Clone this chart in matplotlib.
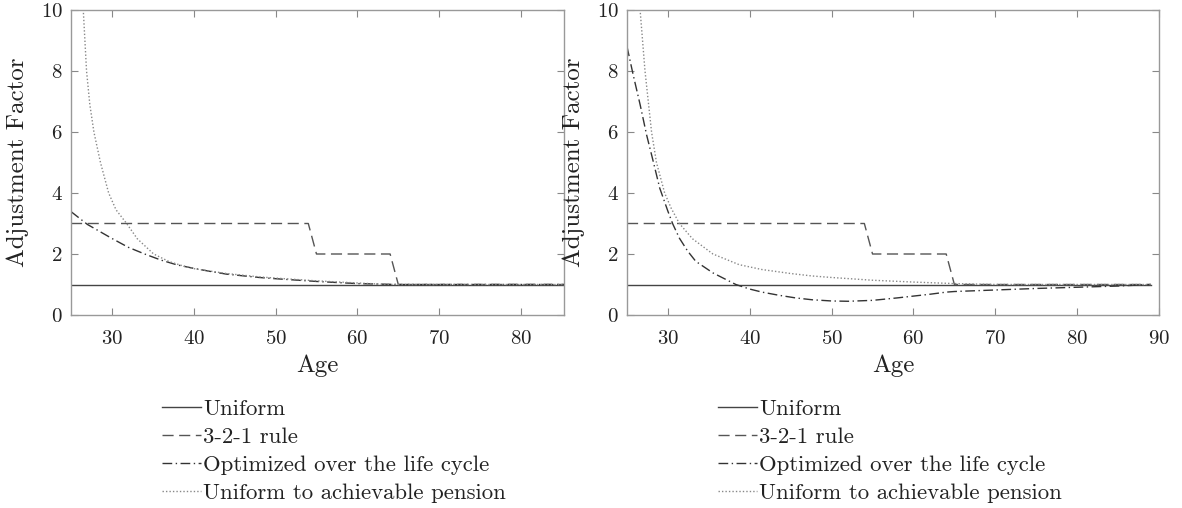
import matplotlib
matplotlib.use("Agg")
from matplotlib import pyplot as plt

plt.rcParams['font.family'] = 'cmr10'
plt.rcParams['axes.formatter.use_mathtext'] = True

# --- left panel ---
l_end = 86
l_uniform_age = [25, l_end]
l_uniform = [1, 1]
l_rule_age = [25, 54, 55, 64, 65, l_end]
l_rule = [3, 3, 2, 2, 1, 1]
l_opt_age = [25, 27, 30, 32, 34, 36, 38, 40, 42, 44, 48, 50, 55, 60, 65, 70, l_end]
l_opt = [3.39, 2.97, 2.51, 2.22, 2.0, 1.80, 1.64, 1.53, 1.43, 1.34, 1.23, 1.19,
         1.10, 1.03, 1.0, 1.0, 1.0]
l_ach_age = [26.2, 26.5, 26.9, 27.3, 27.8, 28.6, 29.6, 30.5, 31.8, 33.1, 35.1, 37,
             38.8, 40, 42, 44, 48, 50, 55, 60, 63, 65, l_end]
l_ach = [12.0, 10.0, 8.0, 6.9, 6.0, 5.0, 4.0, 3.45, 3.0, 2.5, 2.0, 1.75,
         1.6, 1.52, 1.44, 1.36, 1.25, 1.21, 1.12, 1.05, 1.01, 1.0, 1.0]

# --- right panel ---
r_end = 89
r_uniform_age = [25, r_end]
r_uniform = [1, 1]
r_rule_age = [25, 54, 55, 64, 65, r_end]
r_rule = [3, 3, 2, 2, 1, 1]
r_opt_age = [25, 25.75, 26.6, 27.4, 28.2, 29, 30, 30.6, 31.4, 32.4, 33.4, 35.5, 38.3,
             40, 41.5, 43.5, 45.6, 47.6, 50, 52, 55, 58, 60, 62, 64, 65, 70, 75, 80,
             85, r_end]
r_opt = [8.8, 7.88, 6.9, 5.9, 5.04, 4.16, 3.4, 2.98, 2.52, 2.1, 1.76, 1.38, 1.0,
         0.85, 0.75, 0.65, 0.56, 0.5, 0.46, 0.45, 0.48, 0.56, 0.62, 0.68, 0.75, 0.77,
         0.82, 0.87, 0.91, 0.95, 1.0]
r_ach_age = [26.3, 26.6, 27.2, 28.0, 28.6, 29.6, 30.4, 31.4, 33.0, 35.5, 38.7, 41.5,
             45, 47.6, 50, 55, 60, 65, 70, r_end]
r_ach = [12.0, 10.0, 8.0, 6.0, 5.0, 4.0, 3.5, 3.0, 2.5, 2.0, 1.65, 1.49,
         1.36, 1.28, 1.23, 1.14, 1.08, 1.03, 1.0, 1.0]

labels = ['Uniform', '3-2-1 rule', 'Optimized over the life cycle',
          'Uniform to achievable pension']

W, H = 1182, 508
fig = plt.figure(figsize=(W / 100, H / 100), dpi=100)
ax1 = fig.add_axes([71 / W, (H - 315) / H, 493 / W, 305 / H])
ax2 = fig.add_axes([627 / W, (H - 315) / H, 532 / W, 305 / H])


def draw(ax, data, xlim, xticks, leg_x, ylab_x):
    (ua, u), (ra, r), (oa, o), (aa, a) = data
    ax.plot(ua, u, color='#444444', lw=1.0, label=labels[0])
    ax.plot(ra, r, color='#555555', lw=1.0, dashes=(8, 4), label=labels[1])
    ax.plot(oa, o, color='#333333', lw=1.0, dashes=(7, 2.5, 1, 2.5), label=labels[2])
    ax.plot(aa, a, color='#888888', lw=1.0, dashes=(1, 1.5), label=labels[3])
    ax.set_xlim(*xlim)
    ax.set_ylim(0, 10)
    ax.set_xticks(xticks)
    ax.set_yticks([0, 2, 4, 6, 8, 10])
    ax.tick_params(direction='in', top=True, right=True, length=5, width=0.8,
                   color='#888888', labelsize=15, labelcolor='#222222')
    ax.tick_params(axis='x', pad=11)
    ax.tick_params(axis='y', pad=6)
    for s in ax.spines.values():
        s.set_color('#999999')
        s.set_linewidth(1.0)
    ax.set_xlabel('Age', fontsize=18, color='#222222')
    ax.set_ylabel('Adjustment Factor', fontsize=18, color='#222222')
    ax.xaxis.set_label_coords(0.5, -0.13)
    ax.yaxis.set_label_coords(ylab_x, 0.5)
    ax.legend(loc='upper left', bbox_to_anchor=(leg_x, 0.214),
              bbox_transform=fig.transFigure, frameon=False, fontsize=16.4,
              handlelength=1.7, handletextpad=0.1, labelspacing=0.35,
              borderpad=0, borderaxespad=0, labelcolor='#222222')


draw(ax1, [(l_uniform_age, l_uniform), (l_rule_age, l_rule),
           (l_opt_age, l_opt), (l_ach_age, l_ach)],
     (25, 85.25), [30, 40, 50, 60, 70, 80], 162 / W, -0.085)
draw(ax2, [(r_uniform_age, r_uniform), (r_rule_age, r_rule),
           (r_opt_age, r_opt), (r_ach_age, r_ach)],
     (25, 90), [30, 40, 50, 60, 70, 80, 90], 718 / W, -0.079)

fig.savefig('out.png', dpi=100)
